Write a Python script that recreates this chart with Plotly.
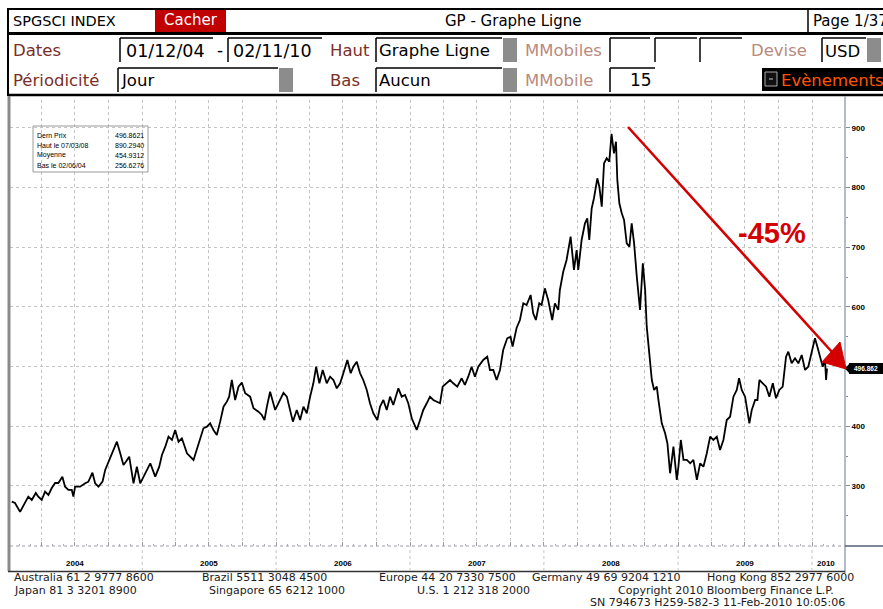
import plotly.graph_objects as go
from datetime import datetime

W, H = 883, 609

# ---------------- data ----------------
years = [
 2004.028, 2004.052, 2004.090, 2004.127, 2004.151, 2004.177, 2004.207, 2004.226, 2004.251, 2004.276,
 2004.301, 2004.326, 2004.351, 2004.375, 2004.405, 2004.425, 2004.450, 2004.475, 2004.487, 2004.500,
 2004.537, 2004.575, 2004.599, 2004.629, 2004.649, 2004.674, 2004.704, 2004.724, 2004.749, 2004.774,
 2004.811, 2004.836, 2004.860, 2004.878, 2004.903, 2004.935, 2004.960, 2004.985,
 2005.010, 2005.035, 2005.060, 2005.097, 2005.127, 2005.147, 2005.172, 2005.196, 2005.222, 2005.246,
 2005.271, 2005.296, 2005.334, 2005.383, 2005.408, 2005.433, 2005.457, 2005.483, 2005.507, 2005.532,
 2005.557, 2005.582, 2005.607, 2005.632, 2005.649, 2005.669, 2005.694, 2005.719, 2005.744, 2005.769,
 2005.806, 2005.831, 2005.868, 2005.893, 2005.913, 2005.931, 2005.955, 2005.993,
 2006.017, 2006.055, 2006.080, 2006.104, 2006.125, 2006.154, 2006.179, 2006.204, 2006.229, 2006.254,
 2006.278, 2006.299, 2006.323, 2006.348, 2006.378, 2006.403, 2006.428, 2006.453, 2006.478, 2006.502,
 2006.532, 2006.557, 2006.577, 2006.602, 2006.627, 2006.651, 2006.677, 2006.701, 2006.726, 2006.756,
 2006.776, 2006.801, 2006.826, 2006.851, 2006.875, 2006.913, 2006.938, 2006.963, 2006.987,
 2007.013, 2007.050, 2007.075, 2007.099, 2007.125, 2007.149, 2007.174, 2007.199, 2007.224, 2007.244,
 2007.274, 2007.299, 2007.323, 2007.353, 2007.386, 2007.410, 2007.435, 2007.460, 2007.485, 2007.510,
 2007.547, 2007.577, 2007.597, 2007.622, 2007.647, 2007.672, 2007.696, 2007.726, 2007.751, 2007.766,
 2007.796, 2007.821, 2007.846, 2007.871, 2007.901, 2007.920, 2007.940, 2007.965, 2007.983,
 2008.007, 2008.032, 2008.062, 2008.082, 2008.107, 2008.119, 2008.144, 2008.169, 2008.199, 2008.224,
 2008.244, 2008.256, 2008.281, 2008.306, 2008.323, 2008.338, 2008.356, 2008.373, 2008.398, 2008.413,
 2008.431, 2008.448, 2008.468, 2008.487, 2008.496, 2008.504, 2008.522, 2008.537, 2008.547, 2008.562,
 2008.580, 2008.597, 2008.617, 2008.637, 2008.654, 2008.672, 2008.692, 2008.716, 2008.737, 2008.754,
 2008.766, 2008.786, 2008.804, 2008.821, 2008.841, 2008.853, 2008.878, 2008.903, 2008.920, 2008.940,
 2008.965, 2008.990,
 2009.002, 2009.020, 2009.040, 2009.065, 2009.090, 2009.114, 2009.140, 2009.164, 2009.189, 2009.214,
 2009.239, 2009.263, 2009.289, 2009.313, 2009.338, 2009.363, 2009.388, 2009.413, 2009.438, 2009.455,
 2009.475, 2009.500, 2009.517, 2009.532, 2009.550, 2009.575, 2009.592, 2009.607, 2009.632, 2009.657,
 2009.681, 2009.707, 2009.731, 2009.756, 2009.781, 2009.806, 2009.823, 2009.848, 2009.873, 2009.898,
 2009.923, 2009.948, 2009.972, 2009.998,
 2010.022, 2010.040, 2010.060, 2010.080, 2010.097, 2010.105, 2010.112]

index_values = [
 273.7, 271.5, 256.6, 271.5, 282.1, 276.5, 288.3, 282.1, 276.5, 290.4,
 284.9, 296.6, 305.0, 305.0, 315.6, 298.8, 293.3, 293.3, 282.1, 298.8,
 298.8, 304.5, 307.2, 322.3, 304.5, 298.8, 307.2, 326.8, 340.7, 354.8,
 374.2, 354.8, 335.2, 340.7, 349.1, 304.5, 332.3, 304.5,
 315.6, 326.8, 338.0, 315.6, 332.3, 352.0, 365.9, 382.6, 377.1, 393.9,
 374.2, 379.9, 354.8, 343.6, 360.3, 377.1, 396.7, 399.4, 405.1, 393.9,
 385.5, 407.8, 432.9, 441.3, 449.7, 477.6, 444.1, 466.4, 473.1, 455.4,
 449.7, 430.2, 424.5, 419.0, 410.6, 432.9, 458.0, 427.4,
 439.1, 455.9, 449.7, 427.4, 407.8, 427.4, 410.6, 432.9, 421.8, 449.7,
 472.1, 499.9, 472.1, 494.4, 472.1, 483.2, 477.6, 463.7, 472.1, 488.9,
 511.2, 488.9, 499.9, 508.3, 488.9, 477.6, 460.9, 438.6, 421.8, 410.6,
 432.9, 444.1, 427.4, 449.7, 435.7, 463.7, 449.7, 452.5, 438.6,
 413.5, 393.9, 410.6, 427.4, 438.6, 449.7, 444.1, 441.3, 438.6, 466.4,
 472.1, 477.6, 472.1, 466.4, 480.5, 469.3, 483.2, 499.9, 483.2, 499.9,
 511.2, 516.7, 494.4, 494.4, 477.6, 494.4, 527.9, 547.5, 550.2, 533.5,
 564.8, 578.2, 606.2, 603.3, 620.1, 589.4, 578.2, 606.2, 603.3,
 631.3, 611.7, 578.2, 606.2, 595.0, 628.5, 659.1, 678.8, 717.8, 662.0,
 695.5, 662.0, 712.3, 740.3, 748.6, 712.3, 765.4, 782.2, 815.7, 801.6,
 768.1, 840.8, 849.2, 843.5, 868.6, 890.3, 857.6, 877.0, 812.8, 773.8,
 757.0, 745.8, 706.7, 701.0, 740.3, 706.7, 650.8, 595.0, 673.2, 628.5,
 567.0, 522.4, 477.6, 460.9, 466.4, 444.1, 405.1, 388.3, 371.6, 321.3,
 365.9, 310.1,
 332.3, 377.1, 343.6, 343.6, 338.0, 343.6, 310.1, 338.0, 332.3, 354.8,
 382.6, 377.1, 382.6, 360.3, 377.1, 410.6, 416.1, 449.7, 460.9, 480.5,
 460.9, 449.7, 427.4, 405.1, 427.4, 444.1, 444.1, 477.6, 472.1, 466.4,
 449.7, 472.1, 447.0, 460.9, 466.4, 516.7, 525.1, 505.6, 514.0, 505.6,
 519.5, 494.4, 499.9, 522.4,
 547.5, 533.5, 516.7, 499.9, 511.2, 477.6, 496.86]

year_labels = ["2004", "2005", "2006", "2007", "2008", "2009", "2010"]
year_label_pos = [2004.5, 2005.5, 2006.5, 2007.5, 2008.5, 2009.5, 2010.105]
y_ticks = [300, 400, 500, 600, 700, 800, 900]
y_ticktext = ["300", "400", "", "600", "700", "800", "900"]

info_labels = ["Dern Prix", "Haut le 07/03/08", "Moyenne", "Bas le 02/06/04"]
info_values = ["496.8621", "890.2940", "454.9312", "256.6276"]
last_price_text = "496.862"


def fy(t):
    y = int(t)
    frac = t - y
    a, b = datetime(y, 1, 1), datetime(y + 1, 1, 1)
    return a + (b - a) * frac


dates = [fy(t) for t in years]

# pixel helpers (layout only)
def PX(x):
    return x / W


def PY(y):
    return 1 - y / H


fig = go.Figure()
fig.add_trace(go.Scatter(x=dates, y=index_values, mode="lines",
                         line=dict(color="black", width=1.8), hoverinfo="skip"))

GRID = "#c4c4c4"
fig.update_layout(
    width=W, height=H, margin=dict(l=0, r=0, t=0, b=0), autosize=False,
    paper_bgcolor="white", plot_bgcolor="white", showlegend=False,
    xaxis=dict(domain=[PX(10), PX(845)], range=[fy(2004.0149), fy(2010.2463)],
               type="date", showticklabels=False, showgrid=True, gridcolor=GRID,
               griddash="dot", gridwidth=1, dtick="M3", tick0="2004-01-01",
               ticks="inside", ticklen=4, tickcolor="#9a9aa8", zeroline=False,
               minor=dict(dtick="M1", ticks="inside", ticklen=2, tickcolor="#b0b0b8",
                          showgrid=False),
               showline=False, fixedrange=True),
    yaxis=dict(domain=[PY(546), PY(100)], range=[199.4, 946.9], side="right",
               tickmode="array", tickvals=y_ticks, ticktext=y_ticktext,
               showgrid=True, gridcolor=GRID, griddash="dot", gridwidth=1,
               ticks="outside", ticklen=4, tickcolor="#8a8aa0",
               tickfont=dict(size=8, family="Liberation Sans", color="black", weight="bold"),
               minor=dict(tickmode="linear", tick0=250, dtick=100, ticks="outside",
                          ticklen=2, tickcolor="#8a8aa0", showgrid=False),
               zeroline=False, showline=False, fixedrange=True),
)


def rect(x0, y0, x1, y1, fill=None, color=None, lw=0, layer="above"):
    fig.add_shape(type="rect", xref="paper", yref="paper",
                  x0=PX(x0), x1=PX(x1), y0=PY(y1), y1=PY(y0),
                  fillcolor=fill if fill else "rgba(0,0,0,0)",
                  line=dict(color=color if color else "rgba(0,0,0,0)", width=lw),
                  layer=layer)


def seg(x0, y0, x1, y1, color="black", lw=1, dash="solid", layer="above"):
    fig.add_shape(type="line", xref="paper", yref="paper",
                  x0=PX(x0), x1=PX(x1), y0=PY(y0), y1=PY(y1),
                  line=dict(color=color, width=lw, dash=dash), layer=layer)


def txt(s, x, y, size, color="black", anchor="left", family="DejaVu Sans", bold=False):
    fig.add_annotation(text=s, x=PX(x), y=PY(y), xref="paper", yref="paper",
                       xanchor=anchor, yanchor="middle", showarrow=False,
                       font=dict(size=size, color=color, family=family,
                                 weight="bold" if bold else "normal"))


# ---------------- header ----------------
MAROON = "#7a2e28"
LIGHT = "#b98a7e"
HATCH = "#8c8c8c"

seg(7, 9, 883, 9, lw=2)
seg(8, 9, 8, 96, lw=2)
rect(155, 10, 226, 32, fill="#c00000")
seg(808, 10, 808, 32, lw=1.5)
seg(8, 33.5, 883, 33.5, lw=3)
seg(8, 95, 883, 95, lw=2.5)

txt("SPGSCI INDEX", 11, 21, 14.5)
txt("Cacher", 190.5, 20, 15, color="white", anchor="center")
txt("GP - Graphe Ligne", 513, 21, 15, anchor="center")
txt("Page 1/37", 811, 21, 15)

# input boxes (left + top borders)
for (x0, x1, y0, y1) in [(120, 213, 38, 62), (228, 322, 38, 62), (376, 502, 38, 62),
                         (610, 650, 38, 62), (655, 697, 38, 62), (700, 742, 38, 62),
                         (822, 866, 38, 62),
                         (118, 278, 68, 92), (376, 502, 68, 92), (610, 655, 68, 92)]:
    seg(x0, y0, x1, y0, lw=1.5)
    seg(x0, y0, x0, y1, lw=1.5)

for (x0, x1, y0, y1) in [(503, 517, 38, 62), (867, 881, 38, 62),
                         (279, 293, 68, 92), (503, 517, 68, 92)]:
    rect(x0, y0, x1, y1, fill=HATCH)

txt("Dates", 11, 50, 16.5, color=MAROON)
txt("01/12/04", 124, 51, 17.5)
txt("-", 215, 50, 17)
txt("02/11/10", 231, 51, 17.5)
txt("Haut", 328, 50, 16.5, color=MAROON)
txt("Graphe Ligne", 377, 50, 16.5)
txt("MMobiles", 523, 50, 16.5, color=LIGHT)
txt("Devise", 749, 50, 16.5, color=LIGHT)
txt("USD", 823, 51, 16.5)

txt("Périodicité", 11, 80, 16.5, color=MAROON)
txt("Jour", 119, 80, 16.5)
txt("Bas", 328, 80, 16.5, color=MAROON)
txt("Aucun", 377, 80, 16.5)
txt("MMobile", 523, 80, 16.5, color=LIGHT)
txt("15", 641, 80, 17, anchor="center")

rect(762, 68, 883, 91, fill="black")
rect(765, 72, 777, 86, fill="#111111", color="#aaaaaa", lw=1)
seg(769, 79, 773, 79, color="#cccccc", lw=1)
txt("Evènements", 779, 80, 16.5, color="#ff5500")

# ---------------- chart frame ----------------
seg(9, 96, 9, 571, color="#8a8a8a", lw=3)
seg(845, 96, 845, 573, color="#98a4b8", lw=1.5)
seg(10, 546, 845, 546, color="#9a9ab0", lw=1, dash="dot")
seg(845, 546, 883, 546, color="#55607a", lw=1.5)
seg(8, 571.5, 845, 571.5, color="#333333", lw=1.5)

for yr in range(2005, 2011):
    fig.add_shape(type="line", xref="x", yref="paper", x0=datetime(yr, 1, 1), x1=datetime(yr, 1, 1),
                  y0=PY(571), y1=PY(546), line=dict(color="#c4c4c4", width=1, dash="dot"))

for lab, pos in zip(year_labels, year_label_pos):
    fig.add_annotation(text=lab, x=fy(pos), y=PY(563), xref="x", yref="paper",
                       showarrow=False, xanchor="center", yanchor="middle",
                       font=dict(size=8, family="Liberation Sans", color="black", weight="bold"))

# info box
rect(33, 126, 148, 172, color="#9a9a9a", lw=1)
for i, (lab, val) in enumerate(zip(info_labels, info_values)):
    yy = 135 + i * 10.2
    txt(lab, 35, yy, 7, family="Liberation Sans")
    txt(val, 146, yy, 7, anchor="right", family="Liberation Sans")

# last price tag
rect(849, 363, 883, 374, fill="black")
fig.add_shape(type="path", xref="paper", yref="paper",
              path=f"M {PX(845)},{PY(368.5)} L {PX(850)},{PY(363)} L {PX(850)},{PY(374)} Z",
              fillcolor="black", line=dict(color="black", width=0))
txt(last_price_text, 866, 368.5, 6.5, color="white", anchor="center", family="Liberation Sans", bold=True)

# red arrow and label
RED = "#d40000"
seg(628, 127, 832, 352, color=RED, lw=2.6)
fig.add_shape(type="path", xref="paper", yref="paper",
              path=(f"M {PX(822)},{PY(362)} L {PX(840)},{PY(342)} "
                    f"L {PX(846)},{PY(369)} Z"),
              fillcolor=RED, line=dict(color=RED, width=1))
txt("-45%", 772, 233, 29, color=RED, anchor="center", family="Liberation Sans", bold=True)

# ---------------- footer ----------------
FOOT = "#1a1a1a"
FF = "DejaVu Sans"
FS = 11
for s, x in [("Australia 61 2 9777 8600", 12), ("Brazil 5511 3048 4500", 200),
             ("Europe 44 20 7330 7500", 377), ("Germany 49 69 9204 1210", 530),
             ("Hong Kong 852 2977 6000", 705)]:
    txt(s, x, 577.5, FS, color=FOOT, family=FF)
for s, x in [("Japan 81 3 3201 8900", 12), ("Singapore 65 6212 1000", 207),
             ("U.S. 1 212 318 2000", 415), ("Copyright 2010 Bloomberg Finance L.P.", 616)]:
    txt(s, x, 590, FS, color=FOOT, family=FF)
txt("SN 794673 H259-582-3 11-Feb-2010 10:05:06", 588, 602.5, FS, color=FOOT, family=FF)

fig.write_html("out.html", config={"displayModeBar": False},
               post_script="document.body.style.margin='0px';document.body.style.overflow='hidden';")
